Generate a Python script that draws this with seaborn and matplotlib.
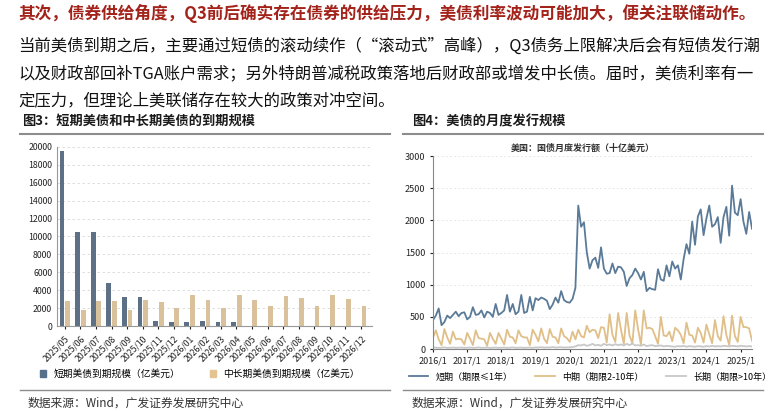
import matplotlib
matplotlib.use("Agg")
import matplotlib.pyplot as plt
import seaborn as sns
import pandas as pd
from matplotlib.lines import Line2D
from matplotlib.patches import Patch

plt.rcParams["font.family"] = ["Noto Sans CJK SC", "DejaVu Sans"]
plt.rcParams["axes.unicode_minus"] = False

# ---- Figure 3 data ----
months3 = ["2025/05","2025/06","2025/07","2025/08","2025/09","2025/10","2025/11","2025/12",
           "2026/01","2026/02","2026/03","2026/04","2026/05","2026/06","2026/07","2026/08",
           "2026/09","2026/10","2026/11","2026/12"]
short_mat = [19600,10450,10500,4750,3250,3250,550,500,500,550,450,450,20,20,20,20,20,20,20,20]
long_mat = [2750,1800,2800,2750,1800,2900,2650,2000,3450,2950,2050,3450,2950,2200,3350,3100,2200,3450,3000,2200]
legend3 = ["短期美债到期规模（亿美元）", "中长期美债到期规模（亿美元）"]

# ---- Figure 4 data (monthly, 2016/1 - 2025/5) ----
xticks4 = ["2016/1","2017/1","2018/1","2019/1","2020/1","2021/1","2022/1","2023/1","2024/1","2025/1"]
short_iss = [450,520,630,370,420,520,480,530,580,510,560,570,
             460,500,650,530,540,600,490,580,560,500,700,530,
             560,600,840,580,700,540,580,840,560,580,810,600,
             790,760,800,780,750,620,690,800,720,900,760,730,
             720,780,950,2230,1900,1970,1500,1250,1380,1420,1260,1580,
             1250,1170,1180,1330,1180,1280,1270,1200,980,1100,1150,1250,
             1180,1080,1200,900,950,930,920,1240,1080,1060,1300,1130,
             1360,1250,1300,1080,1400,1630,1480,1980,1620,2060,2170,1770,
             2030,2230,1900,1940,2050,1650,2050,2210,1760,2540,2120,2080,
             2330,1980,1790,2130,1870]
mid_iss = [180,290,150,60,310,180,80,270,150,160,150,70,
           250,160,60,290,170,160,150,50,250,160,80,250,
           160,70,300,190,180,90,290,200,180,180,60,300,
           220,120,320,160,90,310,190,180,90,320,200,170,
           110,270,150,300,200,180,360,260,300,290,170,340,
           330,100,540,220,110,560,300,80,560,210,90,600,
           310,70,600,320,330,310,200,80,500,210,200,270,
           120,330,290,220,90,410,220,210,100,330,250,100,
           380,230,90,450,200,130,510,220,60,520,200,110,
           500,340,340,320,130]
long_iss = [20,22,18,20,25,18,20,22,18,20,22,18,
            20,22,18,20,25,18,20,22,18,20,22,18,
            20,22,18,20,25,18,20,22,18,20,22,18,
            25,22,28,20,25,22,30,22,25,28,22,25,
            25,30,40,60,55,70,50,60,80,55,65,50,
            80,60,70,55,75,60,70,55,80,60,85,55,
            60,50,70,45,55,60,45,50,55,40,50,45,
            40,35,45,40,50,35,45,40,35,45,40,35,
            45,40,50,40,45,40,50,45,40,50,45,40,
            50,45,40,45,40]
legend4 = ["短期（期限≤1年）", "中期（期限2-10年）", "长期（期限>10年）"]

W, H = 779, 411
fig = plt.figure(figsize=(W/100, H/100), dpi=100)

def fx(x): return x / W
def fy(y): return 1 - y / H

# ---- top text ----
red = "#a3231b"
fig.text(fx(18), fy(13), "其次，债券供给角度，Q3前后确实存在债券的供给压力，美债利率波动可能加大，便关注联储动作。",
         color=red, fontsize=12.0, fontweight="bold", va="center")
lines = ["当前美债到期之后，主要通过短债的滚动续作（“滚动式”高峰），Q3债务上限解决后会有短债发行潮",
         "以及财政部回补TGA账户需求；另外特朗普减税政策落地后财政部或增发中长债。届时，美债利率有一",
         "定压力，但理论上美联储存在较大的政策对冲空间。"]
for i, t in enumerate(lines):
    fig.text(fx(18), fy(46 + 27.5 * i), t, color="#111111", fontsize=11.8, va="center")

# ---- panel headers ----
fig.text(fx(22), fy(121), "图3：短期美债和中长期美债的到期规模", fontsize=9.5, fontweight="bold", color="#1a1a1a", va="center")
fig.text(fx(412), fy(121), "图4：美债的月度发行规模", fontsize=9.5, fontweight="bold", color="#1a1a1a", va="center")
for x0, x1 in [(20, 390), (403, 763)]:
    fig.add_artist(Line2D([fx(x0), fx(x1)], [fy(134), fy(134)], color="#8c8c8c", lw=1.5))
    fig.add_artist(Line2D([fx(x0), fx(x1)], [fy(390), fy(390)], color="#8c8c8c", lw=1.0))
fig.text(fx(28), fy(403), "数据来源：Wind，广发证券发展研究中心", fontsize=8.5, color="#333333", va="center")
fig.text(fx(412), fy(403), "数据来源：Wind，广发证券发展研究中心", fontsize=8.5, color="#333333", va="center")

# ---- Figure 3 ----
ax1 = fig.add_axes([fx(57), fy(326), fx(372 - 57), (326 - 147) / H])
df3 = pd.DataFrame({"month": months3 * 2,
                    "value": short_mat + long_mat,
                    "series": [legend3[0]] * len(months3) + [legend3[1]] * len(months3)})
sns.barplot(data=df3, x="month", y="value", hue="series", ax=ax1,
            palette=["#56708c", "#e3c491"], width=0.72, gap=0.15, legend=False)
ax1.set_ylim(0, 20000)
ax1.set_yticks(range(0, 20001, 2000))
ax1.tick_params(axis="y", labelsize=6.3, length=0, colors="#222222")
ax1.tick_params(axis="x", labelsize=6.3, length=2, colors="#222222")
plt.setp(ax1.get_xticklabels(), rotation=45, ha="right", rotation_mode="anchor")
ax1.set_xlabel(""); ax1.set_ylabel("")
ax1.grid(axis="y", ls=(0, (3, 3)), color="#d8d8d8", lw=0.6)
ax1.set_axisbelow(True)
for s in ["top", "right"]:
    ax1.spines[s].set_visible(False)
for s in ["left", "bottom"]:
    ax1.spines[s].set_color("#999999")
ax1.set_xlim(-0.5, len(months3) - 0.3)
fig.legend(handles=[Patch(color="#56708c"), Patch(color="#e3c491")], labels=legend3,
           loc="center", bbox_to_anchor=(fx(200), fy(374)), ncol=2, frameon=False,
           fontsize=7, handlelength=0.6, handleheight=0.6, columnspacing=3)

# ---- Figure 4 ----
ax2 = fig.add_axes([fx(433), fy(349), fx(752 - 433), (349 - 156) / H])
n = len(short_iss)
df4 = pd.DataFrame({"t": list(range(n)) * 3,
                    "value": short_iss + mid_iss + long_iss,
                    "series": [legend4[0]] * n + [legend4[1]] * n + [legend4[2]] * n})
sns.lineplot(data=df4, x="t", y="value", hue="series", ax=ax2,
             palette=["#5a7a98", "#e0bf88", "#c8c8c8"], lw=1.3, legend=False)
ax2.set_xlim(0, n - 1)
ax2.set_ylim(0, 3000)
ax2.set_yticks(range(0, 3001, 500))
ax2.set_xticks(range(0, 109, 12))
ax2.set_xticklabels(xticks4)
ax2.tick_params(axis="both", labelsize=6.5, colors="#222222")
ax2.tick_params(axis="y", length=2)
ax2.tick_params(axis="x", length=2)
ax2.set_xlabel(""); ax2.set_ylabel("")
ax2.grid(axis="y", ls=(0, (2, 3)), color="#e0e0e0", lw=0.6)
for s in ["top", "right"]:
    ax2.spines[s].set_visible(False)
for s in ["left", "bottom"]:
    ax2.spines[s].set_color("#888888")
fig.text(fx(583), fy(148), "美国：国债月度发行额（十亿美元）", fontsize=6.5, fontweight="bold",
         color="#333333", ha="center", va="center")
fig.legend(handles=[Line2D([], [], color=c, lw=1.3) for c in ["#5a7a98", "#e0bf88", "#c8c8c8"]],
           labels=legend4, loc="center", bbox_to_anchor=(fx(590), fy(377)), ncol=3, frameon=False,
           fontsize=6.5, handlelength=2.2, columnspacing=2.5)

fig.savefig("out.png", dpi=100)
